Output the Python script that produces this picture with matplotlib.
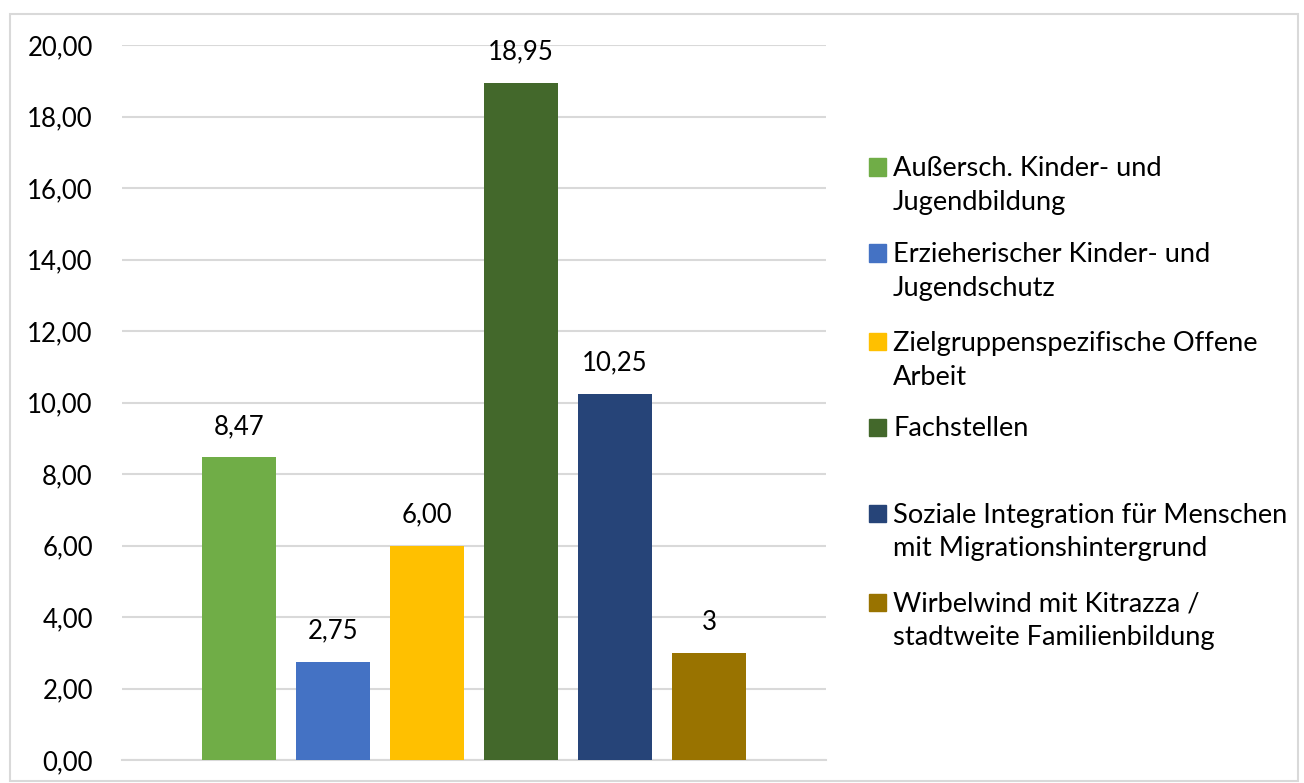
import matplotlib
matplotlib.use("Agg")
import matplotlib.pyplot as plt
from matplotlib.patches import Rectangle

categories = [
    "Außersch. Kinder- und\nJugendbildung",
    "Erzieherischer Kinder- und\nJugendschutz",
    "Zielgruppenspezifische Offene\nArbeit",
    "Fachstellen",
    "Soziale Integration für Menschen\nmit Migrationshintergrund",
    "Wirbelwind mit Kitrazza /\nstadtweite Familienbildung",
]
values = [8.47, 2.75, 6.00, 18.95, 10.25, 3.0]
value_labels = ["8,47", "2,75", "6,00", "18,95", "10,25", "3"]
colors = ["#70AD47", "#4472C4", "#FFC000", "#43682B", "#264478", "#997300"]
yticks = [0, 2, 4, 6, 8, 10, 12, 14, 16, 18, 20]
ytick_labels = ["0,00", "2,00", "4,00", "6,00", "8,00", "10,00", "12,00", "14,00", "16,00", "18,00", "20,00"]

plt.rcParams["font.family"] = ["Lato", "DejaVu Sans"]

W, H = 1304, 783
fig = plt.figure(figsize=(W / 100, H / 100), dpi=100)
ax = fig.add_axes([122 / W, 1 - 760 / H, (826 - 122) / W, (760 - 45) / H])

x = list(range(len(values)))
ax.bar(x, values, width=0.79, color=colors, zorder=3)
for xi, v, lab in zip(x, values, value_labels):
    ax.annotate(lab, (xi, v), xytext=(0, 13), textcoords="offset points",
                ha="center", va="bottom", fontsize=18.5, color="#000000")

ax.set_xlim(-1.245, 5 + 1.245)
ax.set_ylim(0, 20)
ax.set_yticks(yticks)
ax.set_yticklabels(ytick_labels, fontsize=18.5)
ax.set_xticks([])
ax.tick_params(axis="y", length=0, pad=21)
ax.grid(axis="y", color="#D9D9D9", linewidth=1.5, zorder=0)
for s in ["top", "right", "left"]:
    ax.spines[s].set_visible(False)
ax.spines["bottom"].set_color("#D9D9D9")
ax.spines["bottom"].set_linewidth(1.5)
ax.set_axisbelow(True)

# Legend (drawn manually, Excel-style with patch aligned to first line)
entry_y = [167, 253, 342, 427, 513, 602]
for lab, c, yc in zip(categories, colors, entry_y):
    fig.patches.append(Rectangle((869 / W, 1 - (yc + 8.5) / H), 17 / W, 17 / H,
                                 transform=fig.transFigure, color=c))
    fig.text(893 / W, 1 - (yc - 10.5) / H, lab, ha="left", va="top",
             fontsize=19.6, linespacing=1.43, color="#000000")

# Outer border
fig.patches.append(Rectangle((10 / W, 1 - 781 / H), (1298 - 10) / W, (781 - 14) / H,
                             transform=fig.transFigure, fill=False,
                             edgecolor="#D9D9D9", linewidth=1.5))

fig.savefig("out.png", dpi=100)
